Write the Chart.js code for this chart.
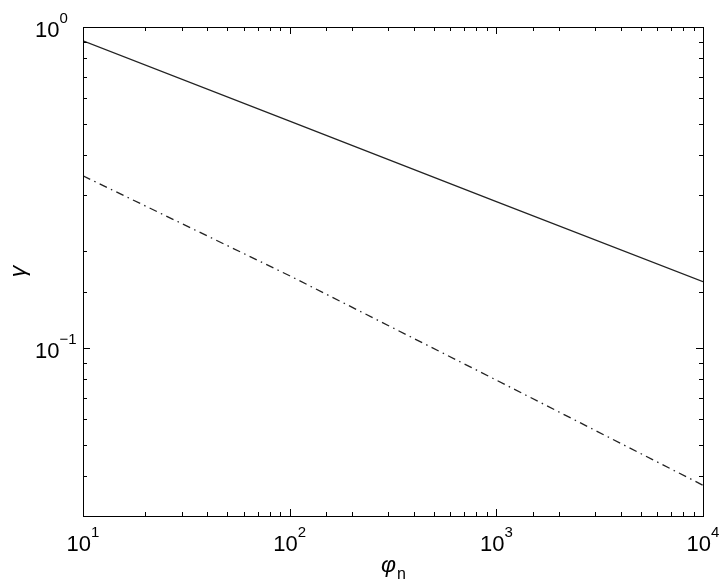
<!DOCTYPE html>
<html>
<head>
<meta charset="utf-8">
<script src="https://cdn.jsdelivr.net/npm/chart.js@4.4.1/dist/chart.umd.min.js"></script>
<style>
    body { margin: 0; background: #fff; }
    #wrap { width: 727px; height: 584px; }
</style>
</head>
<body>
<div id="wrap"><canvas id="gammaChart"></canvas></div>
<script>
// Data (log-log)
const phiValues = [10, 100, 1000, 10000];
const gammaSolid = [0.906, 0.509, 0.286, 0.161];
const gammaDashDot = [0.344, 0.168, 0.0795, 0.0374];

// Decade tick labels: base "10" plus exponent
const xTickDecades = [10, 100, 1000, 10000];
const xTickExponents = ['1', '2', '3', '4'];
const yTickDecades = [1, 0.1];
const yTickExponents = ['0', '\u22121'];

const FONT = "'Liberation Sans', Arial, Helvetica, sans-serif";

function toPoints(xs, ys) {
    return xs.map((x, i) => ({ x: x, y: ys[i] }));
}

function isDecade(v) {
    const l = Math.log10(v);
    return Math.abs(l - Math.round(l)) < 1e-6;
}

// Draws the MATLAB style box, inward ticks, labels and axis titles
const matlabAxes = {
    id: 'matlabAxes',
    afterDatasetsDraw(chart) {
        const ctx = chart.ctx;
        const area = chart.chartArea;
        const xs = chart.scales.x;
        const ys = chart.scales.y;

        ctx.save();
        ctx.strokeStyle = '#000';
        ctx.lineWidth = 1;
        ctx.strokeRect(Math.round(area.left) + 0.5, Math.round(area.top) + 0.5,
            Math.round(area.right - area.left), Math.round(area.bottom - area.top));

        // ticks on all four sides, pointing in
        ctx.beginPath();
        xs.ticks.forEach(t => {
            const px = Math.round(xs.getPixelForValue(t.value)) + 0.5;
            const len = isDecade(t.value) ? 7 : 4;
            ctx.moveTo(px, area.bottom);
            ctx.lineTo(px, area.bottom - len);
            ctx.moveTo(px, area.top);
            ctx.lineTo(px, area.top + len);
        });
        ys.ticks.forEach(t => {
            const py = Math.round(ys.getPixelForValue(t.value)) + 0.5;
            const len = isDecade(t.value) ? 7 : 4;
            ctx.moveTo(area.left, py);
            ctx.lineTo(area.left + len, py);
            ctx.moveTo(area.right, py);
            ctx.lineTo(area.right - len, py);
        });
        ctx.stroke();

        ctx.fillStyle = '#000';
        ctx.textBaseline = 'alphabetic';

        // x tick labels
        xTickDecades.forEach((v, i) => {
            const px = xs.getPixelForValue(v);
            ctx.font = '22px ' + FONT;
            const wBase = ctx.measureText('10').width;
            ctx.font = '15px ' + FONT;
            const wExp = ctx.measureText(xTickExponents[i]).width;
            const start = px - (wBase + wExp) / 2;
            ctx.textAlign = 'left';
            ctx.font = '22px ' + FONT;
            ctx.fillText('10', start, area.bottom + 35);
            ctx.font = '15px ' + FONT;
            ctx.fillText(xTickExponents[i], start + wBase, area.bottom + 21);
        });

        // y tick labels
        yTickDecades.forEach((v, i) => {
            const py = ys.getPixelForValue(v);
            ctx.textAlign = 'left';
            ctx.font = '22px ' + FONT;
            const wBase = ctx.measureText('10').width;
            ctx.fillText('10', 35, py + 9.5);
            ctx.font = '15px ' + FONT;
            ctx.fillText(yTickExponents[i], 35 + wBase, py - 4);
        });

        // x title: phi with subscript n
        ctx.font = 'italic 23px ' + FONT;
        const wPhi = ctx.measureText('\u03C6').width;
        ctx.font = '16px ' + FONT;
        const wN = ctx.measureText('n').width;
        const cx = (area.left + area.right) / 2;
        const sx = cx - (wPhi + wN) / 2;
        ctx.textAlign = 'left';
        ctx.font = 'italic 23px ' + FONT;
        ctx.fillText('\u03C6', sx, area.bottom + 56);
        ctx.font = '16px ' + FONT;
        ctx.fillText('n', sx + wPhi + 1, area.bottom + 63);

        // y title: gamma, rotated
        ctx.translate(24.5, (area.top + area.bottom) / 2);
        ctx.rotate(-Math.PI / 2);
        ctx.textAlign = 'center';
        ctx.font = 'italic 23px ' + FONT;
        ctx.fillText('\u03B3', 0, 0);
        ctx.restore();
    }
};

new Chart(document.getElementById('gammaChart'), {
    type: 'line',
    data: {
        datasets: [
            {
                label: 'solid',
                data: toPoints(phiValues, gammaSolid),
                borderColor: '#222',
                borderWidth: 1.3,
                pointRadius: 0,
                fill: false,
                tension: 0
            },
            {
                label: 'dash-dot',
                data: toPoints(phiValues, gammaDashDot),
                borderColor: '#222',
                borderWidth: 1.3,
                borderDash: [8, 4.5, 1.5, 4.5],
                pointRadius: 0,
                fill: false,
                tension: 0
            }
        ]
    },
    options: {
        responsive: true,
        maintainAspectRatio: false,
        animation: false,
        layout: { padding: { left: 0, top: 27, right: 24, bottom: 0 } },
        plugins: {
            legend: { display: false },
            tooltip: { enabled: false }
        },
        scales: {
            x: {
                type: 'logarithmic',
                min: 10,
                max: 10000,
                grid: { display: false },
                border: { display: false },
                ticks: { display: false, autoSkip: false },
                afterFit(scale) { scale.height = 68; }
            },
            y: {
                type: 'logarithmic',
                min: 0.03,
                max: 1,
                grid: { display: false },
                border: { display: false },
                ticks: { display: false, autoSkip: false },
                afterFit(scale) { scale.width = 83; }
            }
        }
    },
    plugins: [matlabAxes]
});
</script>
</body>
</html>
